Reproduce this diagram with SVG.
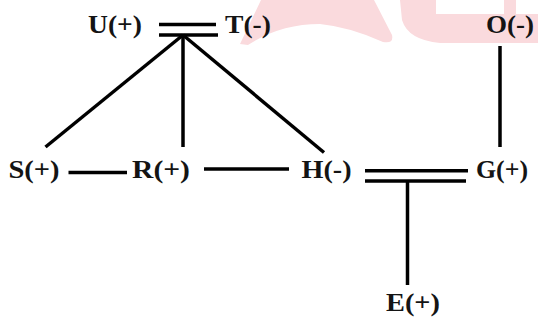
<svg xmlns="http://www.w3.org/2000/svg" width="538" height="320" viewBox="0 0 538 320">
<style>
.lbl{font-family:"Liberation Serif","Times New Roman",serif;font-weight:bold;font-size:26px;fill:#141414}
.ln{stroke:#000;stroke-width:3.5;fill:none;stroke-linecap:butt}
.wm{fill:#fadadd;stroke:none}
</style>
<rect width="538" height="320" fill="#fff"/>
<g id="watermark">
<path class="wm" d="M240 44 L261 0 L374 0 L392 35 Q394 44 383 42 Q350 27 320 24 Q280 24 248 45 Z"/>
<path class="wm" d="M400 0 L436 0 L436 14 L504 14 L504 0 L516 0 L516 14 L538 14 L538 43 L440 43 Q408 40 402 20 Z"/>
</g>
<g id="connectors">
<line class="ln" x1="159" y1="24.5" x2="216" y2="24.5"/>
<line class="ln" x1="159" y1="35" x2="218" y2="35"/>
<line class="ln" x1="183" y1="35" x2="45.5" y2="147"/>
<line class="ln" x1="183" y1="35" x2="183" y2="147"/>
<line class="ln" x1="183" y1="35" x2="324" y2="152.5"/>
<line class="ln" x1="500" y1="46" x2="500" y2="147"/>
<line class="ln" x1="68.5" y1="172.5" x2="127" y2="172.5"/>
<line class="ln" x1="204" y1="169" x2="289" y2="169"/>
<line class="ln" x1="365" y1="170.8" x2="468" y2="170.8"/>
<line class="ln" x1="365" y1="181" x2="466" y2="181"/>
<line class="ln" x1="407.5" y1="181" x2="407.5" y2="285"/>
</g>
<g id="node-U"><text class="lbl" x="88" y="33" textLength="54" lengthAdjust="spacingAndGlyphs">U(+)</text></g>
<g id="node-T"><text class="lbl" x="225" y="33" textLength="46" lengthAdjust="spacingAndGlyphs">T(-)</text></g>
<g id="node-O"><text class="lbl" x="486" y="33" textLength="48" lengthAdjust="spacingAndGlyphs">O(-)</text></g>
<g id="node-S"><text class="lbl" x="8.5" y="178" textLength="51" lengthAdjust="spacingAndGlyphs">S(+)</text></g>
<g id="node-R"><text class="lbl" x="132" y="178" textLength="58" lengthAdjust="spacingAndGlyphs">R(+)</text></g>
<g id="node-H"><text class="lbl" x="301.5" y="178" textLength="50" lengthAdjust="spacingAndGlyphs">H(-)</text></g>
<g id="node-G"><text class="lbl" x="476" y="178" textLength="52" lengthAdjust="spacingAndGlyphs">G(+)</text></g>
<g id="node-E"><text class="lbl" x="386" y="311" textLength="54" lengthAdjust="spacingAndGlyphs">E(+)</text></g>
</svg>
